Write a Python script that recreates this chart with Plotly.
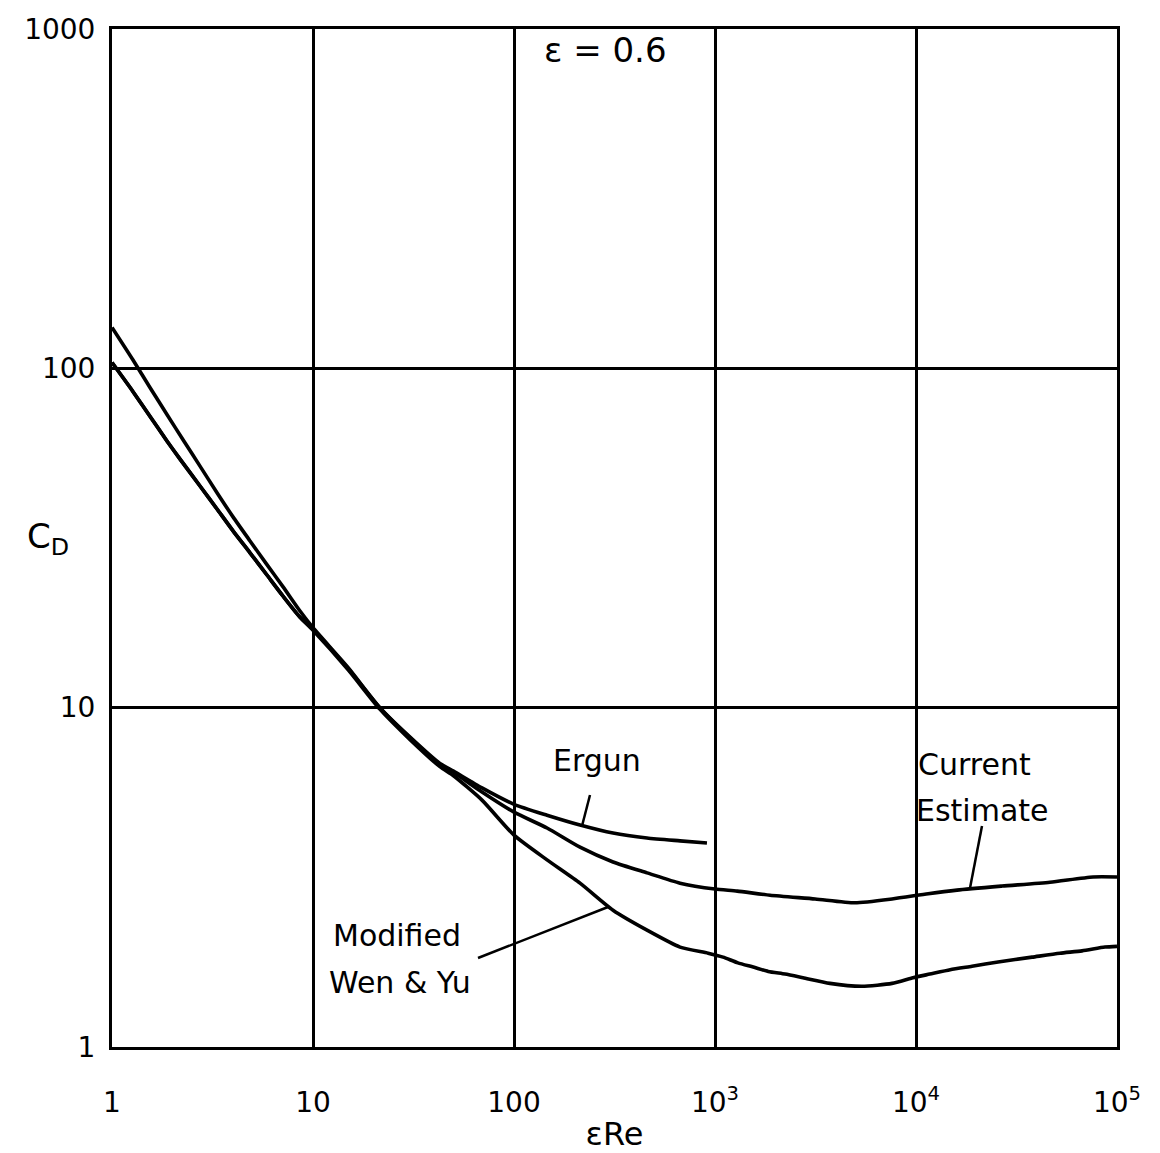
import plotly.graph_objects as go

# ---- data ----
ergun_x = [1, 1.27, 1.55, 1.88, 2.26, 2.74, 3.33, 4.0, 4.86, 5.9, 7.1, 8.6, 10,
           15, 21.5, 30.4, 42.8, 50, 69.3, 100, 146, 213, 311, 459, 670, 912]
ergun_y = [132, 106, 87.5, 73, 61.5, 51.5, 43.0, 36.5, 31.0, 26.4, 22.7, 19.3, 17.2,
           13.1, 10.0, 8.19, 6.85, 6.5, 5.80, 5.19, 4.82, 4.51, 4.27, 4.13, 4.05, 3.99]

current_x = [1, 1.27, 1.55, 1.88, 2.18, 2.74, 3.33, 4.0, 4.86, 5.9, 7.1, 8.6, 10,
             15, 21.5, 30.4, 42.8, 50, 69.3, 100, 146, 213, 311, 459, 670, 1000,
             1290, 1880, 3150, 4970, 7600, 11500, 16000, 26800, 46400, 76000, 100000]
current_y = [104, 85.5, 72, 61, 54, 45, 38.5, 33.2, 28.6, 24.6, 21.3, 18.5, 17.0,
             13.0, 10.0, 8.15, 6.8, 6.45, 5.64, 4.92, 4.42, 3.88, 3.51, 3.26, 3.04, 2.92,
             2.88, 2.80, 2.73, 2.66, 2.73, 2.83, 2.90, 2.98, 3.06, 3.17, 3.17]

wenyu_x = [1, 1.27, 1.55, 1.88, 2.18, 2.74, 3.33, 4.0, 4.86, 5.9, 7.1, 8.6, 10,
           15, 21.5, 30.4, 42.8, 50, 69.3, 100, 146, 213, 311, 459, 670, 924,
           1096, 1300, 1550, 1840, 2230, 2740, 3730, 5380, 7600, 9660, 11700,
           14800, 19000, 25600, 37800, 52000, 67000, 87100, 100000]
wenyu_y = [104, 85.5, 72, 61, 54, 45, 38.5, 33.2, 28.6, 24.6, 21.3, 18.5, 16.9,
           12.9, 9.9, 8.05, 6.7, 6.3, 5.34, 4.21, 3.56, 3.04, 2.53, 2.21, 1.97, 1.89,
           1.84, 1.77, 1.72, 1.67, 1.64, 1.60, 1.54, 1.51, 1.54, 1.60, 1.64,
           1.69, 1.73, 1.78, 1.84, 1.89, 1.92, 1.97, 1.98]

x_tickvals = [1, 10, 100, 1000, 10000, 100000]
x_ticktext = ["1", "10", "100", "10<sup>3</sup>", "10<sup>4</sup>", "10<sup>5</sup>"]
y_tickvals = [1, 10, 100, 1000]
y_ticktext = ["1", "10", "100", "1000"]

FONT = "DejaVu Sans"
# page body has an 8px margin; figure is sized so the plot area lands on the reference pixels
OFF = 8
W, H = 1160 - OFF, 1153 - OFF
L, R, T, B = 112, 1117, 29, 1047


def px(X):
    return (X - L) / (R - L)


def py(Y):
    return (B - Y) / (B - T)


fig = go.Figure()
line_style = dict(color="black", width=3.6, shape="spline", smoothing=0.6)
fig.add_trace(go.Scatter(x=ergun_x, y=ergun_y, mode="lines", line=line_style,
                         name="Ergun", showlegend=False))
fig.add_trace(go.Scatter(x=current_x, y=current_y, mode="lines", line=line_style,
                         name="Current Estimate", showlegend=False))
fig.add_trace(go.Scatter(x=wenyu_x, y=wenyu_y, mode="lines", line=line_style,
                         name="Modified Wen & Yu", showlegend=False))

axis_common = dict(type="log", showgrid=True, gridcolor="black", gridwidth=3,
                   showline=True, linecolor="black", linewidth=3, mirror=True,
                   zeroline=False, ticks="", automargin=False,
                   tickfont=dict(family=FONT, size=28, color="black"))

fig.update_xaxes(range=[0, 5], tickvals=x_tickvals, ticktext=x_ticktext,
                 ticklabelstandoff=28,
                 title=dict(text="εRe", font=dict(family=FONT, size=32, color="black")),
                 **axis_common)
fig.update_yaxes(range=[0, 3], tickvals=y_tickvals, ticktext=y_ticktext,
                 ticklabelstandoff=8, **axis_common)

ann_font = dict(family=FONT, size=30, color="black")
annotations = [
    dict(x=px(605), y=py(50), text="ε = 0.6", font=dict(family=FONT, size=34, color="black")),
    dict(x=px(597), y=py(760), text="Ergun", font=ann_font),
    dict(x=px(974), y=py(764), text="Current", font=ann_font),
    dict(x=px(982), y=py(810), text="Estimate", font=ann_font),
    dict(x=px(397), y=py(935), text="Modified", font=ann_font),
    dict(x=px(400), y=py(982), text="Wen &amp; Yu", font=ann_font),
    dict(x=px(48), y=py(538), text="C<sub>D</sub>", font=dict(family=FONT, size=34, color="black")),
]
for a in annotations:
    a.update(xref="paper", yref="paper", showarrow=False, xanchor="center", yanchor="middle")
fig.update_layout(annotations=annotations)

leaders = [((590, 795), (582, 826)), ((982, 826), (970, 888)), ((478, 958), (608, 907))]
for (x0, y0), (x1, y1) in leaders:
    fig.add_shape(type="line", xref="paper", yref="paper",
                  x0=px(x0), y0=py(y0), x1=px(x1), y1=py(y1),
                  line=dict(color="black", width=2.5))

fig.update_layout(width=W, height=H,
                  margin=dict(l=L - OFF, r=1160 - R, t=T - OFF, b=1153 - B, autoexpand=False),
                  paper_bgcolor="white", plot_bgcolor="white",
                  font=dict(family=FONT, color="black"))

fig.write_html("out.html")
